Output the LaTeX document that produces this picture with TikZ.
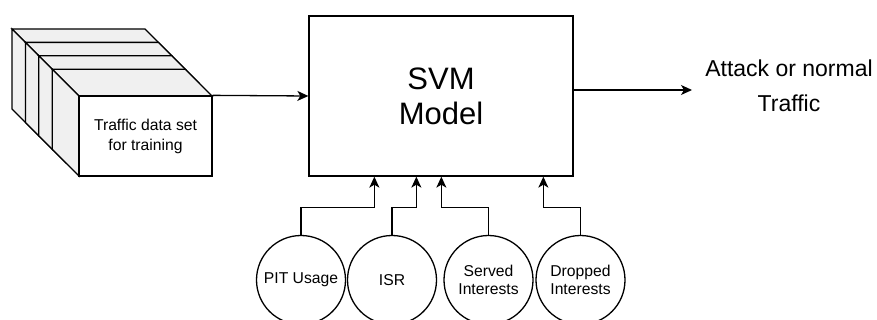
\documentclass[tikz,border=0pt]{standalone}
\usepackage{fontspec}
\setmainfont{Liberation Sans}
\usetikzlibrary{arrows.meta,calc}
\tikzset{
  ln/.style={line width=1.3pt, draw=black},
  arr/.style={ln, -{Stealth[length=11pt,width=10pt,inset=3pt]}},
  side/.style={ln, fill=gray!12, line join=miter},
  face/.style={ln, fill=white, rectangle, minimum width=133pt, minimum height=80pt, inner sep=0pt, align=center,
    font=\fontsize{15.7}{20}\selectfont},
  model/.style={ln, fill=white, rectangle, minimum width=264pt, minimum height=160pt, inner sep=0pt, align=center,
    font=\fontsize{31}{35}\selectfont},
  feat/.style={ln, fill=white, circle, minimum size=89pt, inner sep=0pt, align=center,
    font=\fontsize{15.7}{18}\selectfont},
  lbl/.style={align=center, inner sep=0pt, font=\fontsize{23}{35}\selectfont}
}
\begin{document}
\begin{tikzpicture}[x=1pt,y=-1pt]
\useasboundingbox (0,0) rectangle (877,320);
\fill[white] (0,0) rectangle (877,320);
\begin{scope}
\clip (0,0) rectangle (877,320);
% stacked data set cubes (back to front)
\foreach \k in {0,1,2} {
  \pgfmathsetmacro{\bx}{12+13.4*\k}
  \pgfmathsetmacro{\by}{29+13.4*\k}
  \draw[side] (\bx,\by) -- ++(133,0) -- ++(26.8,26.8) -- ++(-133,0) -- cycle;
  \draw[side] (\bx,\by) -- ++(26.8,26.8) -- ++(0,80) -- ++(-26.8,-26.8) -- cycle;
  \node[face] (layer\k) at (\bx+26.8+66.5, \by+26.8+40) {};
}
\draw[side] (52.2,69.2) -- ++(133,0) -- ++(26.8,26.8) -- ++(-133,0) -- cycle;
\draw[side] (52.2,69.2) -- ++(26.8,26.8) -- ++(0,80) -- ++(-26.8,-26.8) -- cycle;
\node[face] (data) at (145.5,136) {Traffic data set\\for training};

% SVM model
\node[model] (svm) at (441,96) {SVM\\Model};

% output
\node[lbl] (out) at (789,85.5) {Attack or normal\\Traffic};
\coordinate (outtip) at (692,90);

% feature circles
\node[feat] (c1) at (301,280) {PIT Usage};
\node[feat] (c2) at (392,280) {ISR};
\node[feat] (c3) at (488.5,280) {Served\\Interests};
\node[feat] (c4) at (580.5,280) {Dropped\\Interests};

% connectors
\draw[arr] (data.north east) -- (svm.west);
\draw[arr] (svm.east |- outtip) -- (outtip);
\draw[arr] (c1.north) -- ++(0,-27.5) -| ($(svm.south west)+(66,0)$);
\draw[arr] (c2.north) -- ++(0,-27.5) -| ($(svm.south west)+(108,0)$);
\draw[arr] (c3.north) -- ++(0,-27.5) -| ($(svm.south west)+(133,0)$);
\draw[arr] (c4.north) -- ++(0,-27.5) -| ($(svm.south west)+(235,0)$);
\end{scope}
\end{tikzpicture}
\end{document}
